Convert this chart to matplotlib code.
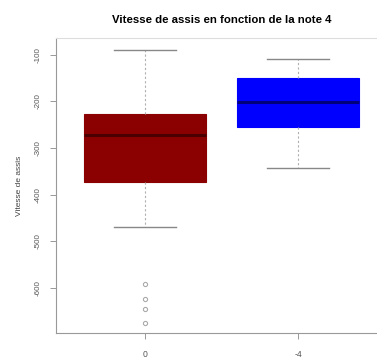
import matplotlib
matplotlib.use("Agg")
import matplotlib.pyplot as plt

# summary values
groups = ["0", "-4"]
medians = [-273, -201]
q1 = [-374, -254]
q3 = [-228, -149]
whislo = [-469, -344]
whishi = [-89, -108]
fliers_0 = [-591, -624, -645, -675]
fliers_4 = []
colors = ["#8b0000", "#0000ff"]

plt.rcParams["font.family"] = ["Liberation Sans", "DejaVu Sans"]

fig = plt.figure(figsize=(3.77, 3.58), dpi=100)
ax = fig.add_axes([56 / 377, 25 / 358, 331 / 377, 295 / 358])

stats = []
for i, fl in enumerate([fliers_0, fliers_4]):
    stats.append(dict(med=medians[i], q1=q1[i], q3=q3[i],
                      whislo=whislo[i], whishi=whishi[i],
                      fliers=fl, label=groups[i]))

bp = ax.bxp(stats, positions=[1, 2], widths=0.8, patch_artist=True,
            showfliers=True,
            boxprops=dict(linewidth=0.8),
            medianprops=dict(color="#4a0000", linewidth=2.2),
            whiskerprops=dict(color="#b0b0b0", linewidth=0.8, linestyle=(0, (2, 2))),
            capprops=dict(color="#888888", linewidth=1.0),
            capwidths=0.4,
            flierprops=dict(marker="o", markersize=3, markerfacecolor="none",
                            markeredgecolor="#aaaaaa", markeredgewidth=0.8))
for patch, c in zip(bp["boxes"], colors):
    patch.set_facecolor(c)
    patch.set_edgecolor(c)
bp["medians"][1].set_color("#00007a")

ax.set_xlim(0.42, 2.58)
ax.set_ylim(-697, -64)
ax.set_yticks([-100, -200, -300, -400, -500, -600])
ax.set_yticklabels(["-100", "-200", "-300", "-400", "-500", "-600"],
                   rotation=90, va="center", fontsize=5.8, color="#555555")
ax.set_xticks([1, 2])
ax.set_xticklabels(groups, fontsize=6.2, color="#555555")
ax.tick_params(axis="y", length=4, width=0.7, color="#999999", pad=6)
ax.tick_params(axis="x", length=4, width=0.7, color="#999999", pad=8)

for s in ax.spines.values():
    s.set_color("#999999")
    s.set_linewidth(0.8)
ax.spines["top"].set_color("#dddddd")

ax.set_ylabel("Vitesse de assis", fontsize=6, color="#444444", labelpad=9)
ax.set_title("Vitesse de assis en fonction de la note 4", fontsize=8.2,
             fontweight="bold", pad=11)

fig.savefig("out.png", dpi=100)
